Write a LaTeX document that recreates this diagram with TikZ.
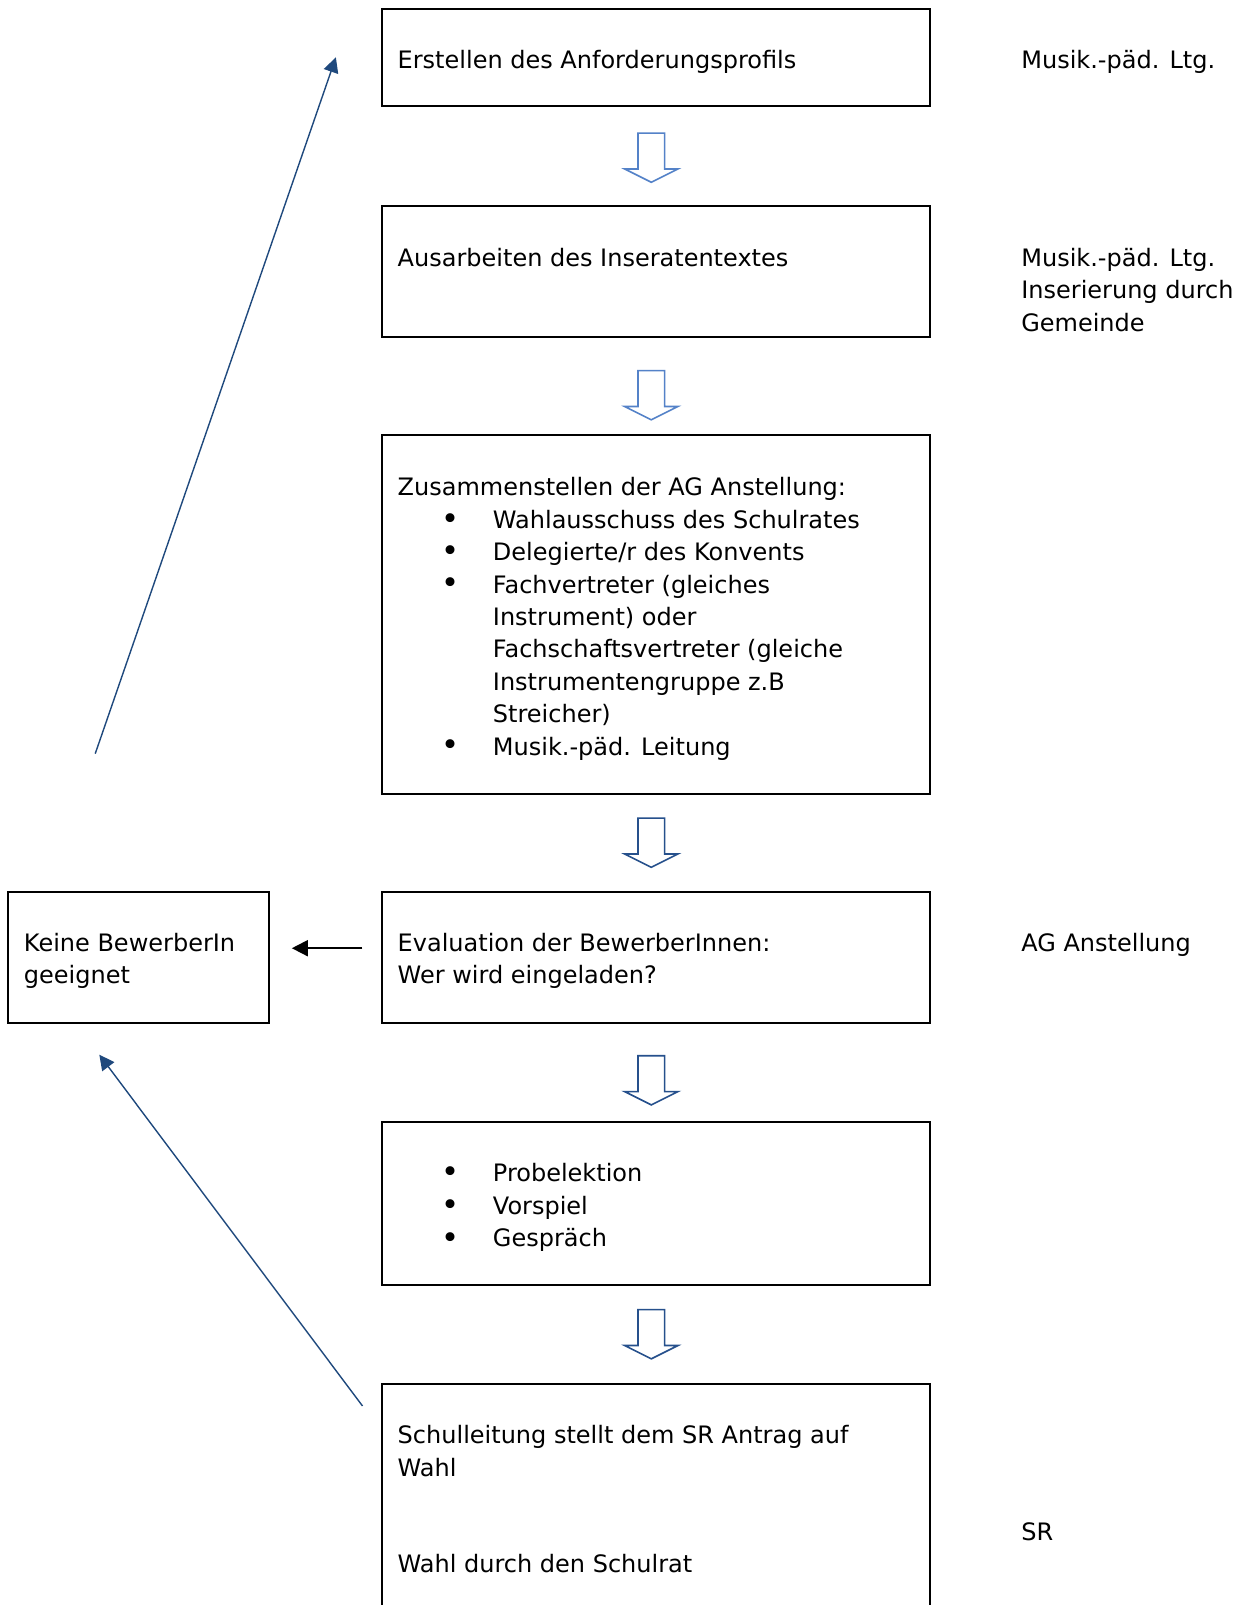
\documentclass[tikz,border=0pt]{standalone}
\usepackage{fontspec}
\setmainfont{DejaVu Sans}
\usetikzlibrary{fit,arrows.meta}
\definecolor{lightarr}{RGB}{84,130,200}
\definecolor{darkarr}{RGB}{38,80,140}
\definecolor{diagarr}{RGB}{31,73,125}
\newcommand\fs{\fontsize{12pt}{16.2pt}\selectfont}
\newcommand\hollowarrow[3]{%
  \draw[#3, line width=0.8pt, line join=miter]
    (#1-13,#2) -- (#1+13,#2) -- (#1+13,#2+35) -- (#1+26,#2+35) -- (#1,#2+48)
    -- (#1-26,#2+35) -- (#1-13,#2+35) -- cycle;}
\begin{document}
\begin{tikzpicture}[x=0.512pt,y=-0.512pt,
  box/.style={draw=black, line width=1pt, inner sep=0pt},
  txt/.style={inner sep=0pt, anchor=base west, font=\fs},
  bul/.style={inner sep=0pt, anchor=base, font=\fontsize{15.3pt}{16.2pt}\selectfont},
  diag/.style={draw=diagarr, line width=0.7pt, -{Triangle[length=7.5pt,width=7.5pt]}},
  larr/.style={draw=black, line width=0.9pt, -{Triangle[length=8pt,width=8pt]}}]
\useasboundingbox[fill=white] (0,0) rectangle (1212.9,1567.4);
% boxes
\node[box, fit={(373,9)(908,104)}] (b1) {};
\node[box, fit={(373,201)(908,329)}] (b2) {};
\node[box, fit={(373,425)(908,775)}] (b3) {};
\node[box, fit={(373,871)(908,999)}] (b4) {};
\node[box, fit={(8,871)(263,999)}] (bl) {};
\node[box, fit={(373,1096)(908,1255)}] (b5) {};
\draw[line width=1pt] (373,1567.4) -- (373,1352) -- (908,1352) -- (908,1567.4);
\coordinate (b6nw) at (373,1352);
% texts
\node[txt] (t1) at (388,67) {Erstellen des Anforderungsprofils};
\node[txt] (t2) at (388,260) {Ausarbeiten des Inseratentextes};
\node[txt] (t3) at (388,484) {Zusammenstellen der AG Anstellung:};
\node[bul] (u1) at (440,517) {\textbullet};
\node[bul] (u2) at (440,548) {\textbullet};
\node[bul] (u3) at (440,580) {\textbullet};
\node[bul] (u4) at (440,738) {\textbullet};
\node[txt] (t3b) at (481,516) {\parbox[t]{200pt}{\fs Wahlausschuss des Schulrates\\Delegierte/r des Konvents\\Fachvertreter (gleiches\\Instrument) oder\\Fachschaftsvertreter (gleiche\\Instrumentengruppe z.B\\Streicher)\\Musik.-päd. Leitung}};
\node[txt] (t4) at (388,929) {\parbox[t]{250pt}{\fs Evaluation der BewerberInnen:\\Wer wird eingeladen?}};
\node[txt] (tl) at (23,929) {\parbox[t]{120pt}{\fs Keine BewerberIn\\geeignet}};
\node[bul] (u5) at (440,1155) {\textbullet};
\node[bul] (u6) at (440,1187) {\textbullet};
\node[bul] (u7) at (440,1219) {\textbullet};
\node[txt] (t5) at (481,1154) {\parbox[t]{200pt}{\fs Probelektion\\Vorspiel\\Gespräch}};
\node[txt] (t6) at (388,1410) {\parbox[t]{250pt}{\fs Schulleitung stellt dem SR Antrag auf\\Wahl}};
\node[txt] (t7) at (388,1536) {Wahl durch den Schulrat};
% right labels
\node[txt] (r1) at (997,67) {Musik.-päd. Ltg.};
\node[txt] (r2) at (997,260) {\parbox[t]{110pt}{\fs Musik.-päd. Ltg.\\Inserierung durch\\Gemeinde}};
\node[txt] (r3) at (997,929) {AG Anstellung};
\node[txt] (r4) at (997,1504) {SR};
% hollow arrows
\hollowarrow{636}{130}{lightarr}
\hollowarrow{636}{362}{lightarr}
\hollowarrow{636}{799}{darkarr}
\hollowarrow{636}{1031}{darkarr}
\hollowarrow{636}{1279}{darkarr}
% connectors
\coordinate (la1) at (354,926);
\coordinate (la2) at (285,926);
\draw[larr] (la1) -- (la2);
\coordinate (d1a) at (93,736);
\coordinate (d1b) at (328,56);
\draw[diag] (d1a) -- (d1b);
\coordinate (d2a) at (354,1373);
\coordinate (d2b) at (97,1030);
\draw[diag] (d2a) -- (d2b);
\end{tikzpicture}
\end{document}
